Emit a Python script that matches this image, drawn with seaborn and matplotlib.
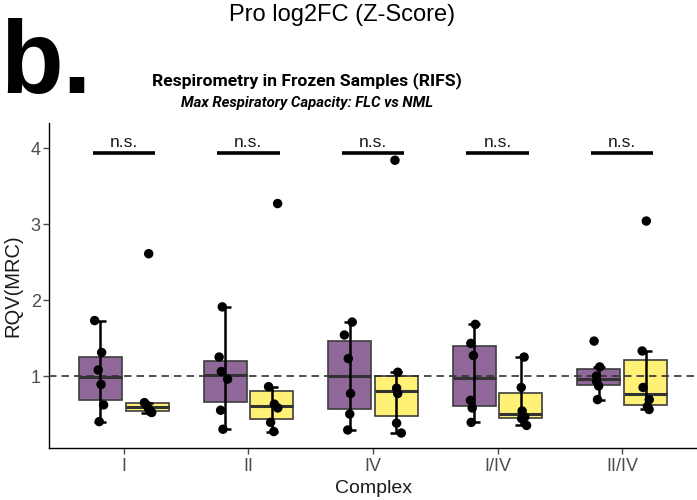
import numpy as np
import pandas as pd
import seaborn as sns
import matplotlib.pyplot as plt

# ---- data ----
complexes = ["I", "II", "IV", "I/IV", "II/IV"]
groups = ["FLC", "NML"]
flc_I = [1.73, 1.31, 1.08, 0.89, 0.62, 0.40]
nml_I = [2.61, 0.65, 0.62, 0.57, 0.53, 0.52]
flc_II = [1.91, 1.25, 1.06, 0.96, 0.55, 0.30]
nml_II = [3.27, 0.86, 0.63, 0.58, 0.39, 0.27]
flc_IV = [1.71, 1.54, 1.23, 0.77, 0.50, 0.29]
nml_IV = [3.84, 1.05, 0.84, 0.77, 0.38, 0.25]
flc_I_IV = [1.68, 1.43, 1.27, 0.68, 0.58, 0.39]
nml_I_IV = [1.25, 0.85, 0.54, 0.46, 0.44, 0.35]
flc_II_IV = [1.46, 1.12, 1.00, 0.93, 0.87, 0.69]
nml_II_IV = [3.04, 1.33, 0.85, 0.69, 0.60, 0.56]
sig_labels = ["n.s.", "n.s.", "n.s.", "n.s.", "n.s."]
yticks = [1, 2, 3, 4]

series = {
    ("I", "FLC"): flc_I, ("I", "NML"): nml_I,
    ("II", "FLC"): flc_II, ("II", "NML"): nml_II,
    ("IV", "FLC"): flc_IV, ("IV", "NML"): nml_IV,
    ("I/IV", "FLC"): flc_I_IV, ("I/IV", "NML"): nml_I_IV,
    ("II/IV", "FLC"): flc_II_IV, ("II/IV", "NML"): nml_II_IV,
}
rows = []
for (c, g), vals in series.items():
    for v in vals:
        rows.append({"Complex": c, "Group": g, "RQV": v})
df = pd.DataFrame(rows)

# ---- style ----
plt.rcParams["font.family"] = ["Liberation Sans", "DejaVu Sans"]
title_family = ["Roboto", "Liberation Sans"]

purple = "#8F6798"
yellow = "#FEF175"
edge = "#3d3d3d"
tickgray = "#4d4d4d"

fig = plt.figure(figsize=(6.97, 5.0), dpi=100)
ax = fig.add_axes([49 / 697, 1 - 448 / 500, 1 - 49 / 697, (448 - 123) / 500])

box_w = 0.75
sns.boxplot(data=df, x="Complex", y="RQV", hue="Group", order=complexes,
            hue_order=groups, palette=[purple, yellow], saturation=1,
            width=box_w, gap=0.08,
            showfliers=False, linecolor=edge, linewidth=1.2,
            whiskerprops={"visible": False}, capprops={"visible": False},
            medianprops={"linewidth": 2.2, "color": "#333333"},
            legend=False, ax=ax)

# whiskers drawn through the box (errorbar style)
for i, c in enumerate(complexes):
    for j, g in enumerate(groups):
        v = np.array(series[(c, g)])
        q1, q3 = np.percentile(v, [25, 75])
        iqr = q3 - q1
        lo = v[v >= q1 - 1.5 * iqr].min()
        hi = v[v <= q3 + 1.5 * iqr].max()
        x = i + (j - 0.5) * box_w / 2
        ax.vlines(x, lo, hi, color="black", lw=1.8, zorder=3)
        ax.hlines([lo, hi], x - 0.048, x + 0.048, color="black", lw=1.8, zorder=3)

ax.axhline(1, ls=(0, (4.5, 3)), color="#333333", lw=1.2, zorder=2.6)

np.random.seed(7)
sns.stripplot(data=df, x="Complex", y="RQV", hue="Group", order=complexes,
              hue_order=groups, palette=["black", "black"], dodge=True,
              jitter=0.08, size=6.8, linewidth=0, legend=False, ax=ax, zorder=4)

for i, lab in enumerate(sig_labels):
    ax.hlines(3.93, i - 0.25, i + 0.25, color="black", lw=2.6, zorder=3)
    ax.text(i, 4.02, lab, ha="center", va="baseline", fontsize=12.5, color="#1a1a1a")

ax.set_xlim(-0.6, 4.6)
ax.set_ylim(0.053, 4.33)
ax.set_yticks(yticks)
ax.set_yticklabels([str(t) for t in yticks])
ax.tick_params(axis="both", colors=tickgray, labelsize=13, length=4, width=1)
ax.tick_params(axis="y", pad=2)
ax.set_xlabel("Complex", fontsize=14, color="#1a1a1a", labelpad=3)
ax.set_ylabel("RQV(MRC)", fontsize=14.5, color="#1a1a1a", labelpad=6)
for s in ["top", "right"]:
    ax.spines[s].set_visible(False)
for s in ["left", "bottom"]:
    ax.spines[s].set_color("black")
    ax.spines[s].set_linewidth(1.0)
ax.set_facecolor("white")

fig.text(0.0, 1 - 93 / 500, "b.", fontsize=74, fontweight="bold", ha="left", va="baseline")
fig.text(342 / 697, 1 - 21 / 500, "Pro log2FC (Z-Score)", fontsize=17, ha="center", va="baseline")
fig.text(307 / 697, 1 - 85 / 500, "Respirometry in Frozen Samples (RIFS)", fontsize=12.6,
         family=title_family, fontweight="bold", ha="center", va="baseline")
fig.text(307 / 697, 1 - 107 / 500, "Max Respiratory Capacity: FLC vs NML", fontsize=10.7,
         family=title_family, fontweight="bold", fontstyle="italic", ha="center", va="baseline")

fig.savefig("out.png", dpi=100, facecolor="white")
